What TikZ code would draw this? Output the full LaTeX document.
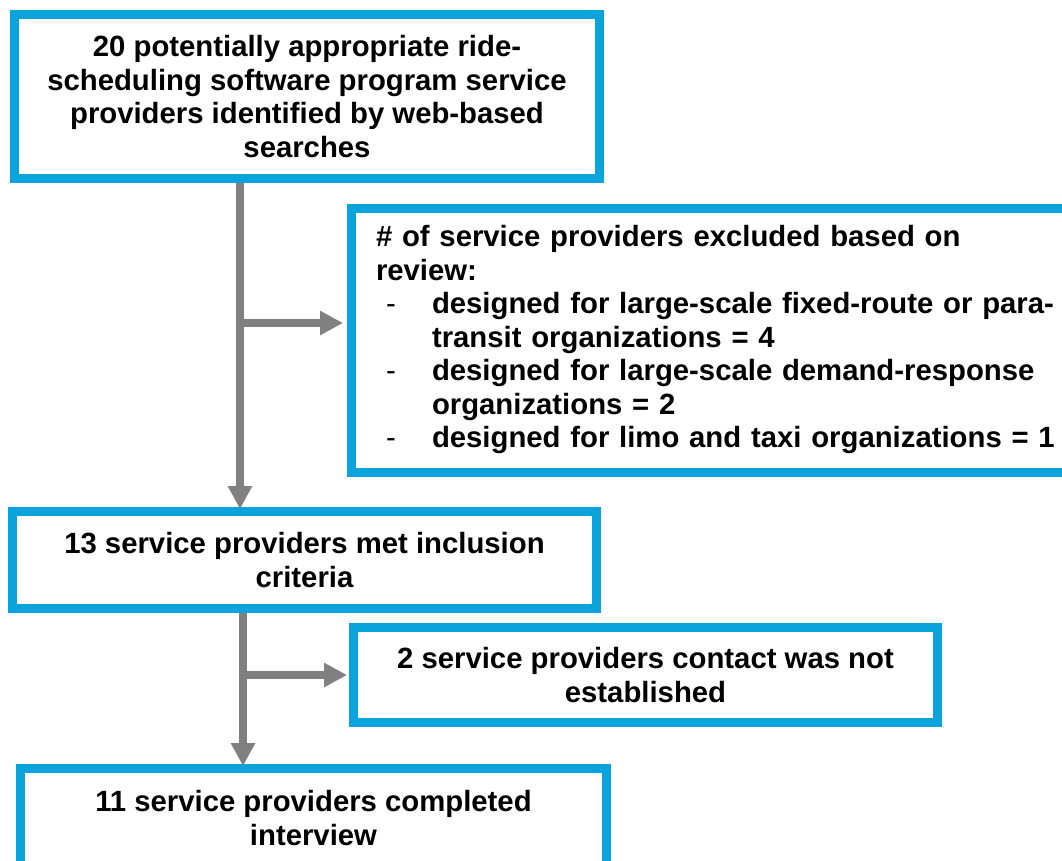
\documentclass[tikz,border=0pt]{standalone}
\usepackage{fontspec}
\setmainfont{Liberation Sans}
\usetikzlibrary{arrows.meta}
\definecolor{boxblue}{RGB}{11,163,219}
\definecolor{arrgray}{RGB}{128,128,128}
\begin{document}
\begin{tikzpicture}[x=1pt,y=-1pt,
  box/.style={draw=boxblue, line width=9pt, fill=white, rectangle, inner sep=0pt,
    font=\fontsize{29.3}{33.5}\selectfont\bfseries, align=center},
  arr/.style={draw=arrgray, line width=8pt, -{Triangle[length=23pt,width=23pt]}}]
\useasboundingbox (0,0) rectangle (1062,860);
\clip (0,0) rectangle (1062,860);
\fill[white] (0,0) rectangle (1062,860);

\node[box, minimum width=585pt, minimum height=164pt] (b1) at (307,96.5)
  {20 potentially appropriate ride-\\scheduling software program service\\providers identified by web-based\\searches};

\node[box, minimum width=719pt, minimum height=264pt, text width=670pt, inner xsep=24.5pt, align=left] (ex1) at (711,340.5)
  {\begin{tabular}{@{}p{56pt}@{}l@{}}
   \multicolumn{2}{@{}l@{}}{\# of service providers excluded based on}\\
   \multicolumn{2}{@{}l@{}}{review:}\\
   \hspace*{10pt}\mdseries - & designed for large-scale fixed-route or para-\\
    & transit organizations = 4\\
   \hspace*{10pt}\mdseries - & designed for large-scale demand-response\\
    & organizations = 2\\
   \hspace*{10pt}\mdseries - & designed for limo and taxi organizations = 1
   \end{tabular}};

\node[box, minimum width=584pt, minimum height=97pt] (b2) at (304.5,560)
  {13 service providers met inclusion\\criteria};

\node[box, minimum width=584pt, minimum height=95pt] (ex2) at (645.5,675)
  {2 service providers contact was not\\established};

\node[box, minimum width=586pt, minimum height=99pt] (b3) at (313.5,818)
  {11 service providers completed\\interview};

\coordinate (j1) at (240,323);
\coordinate (j2) at (243,675);

\draw[arr] (b1.south -| j1) -- ([yshift=-2pt]b2.north -| j1);
\draw[arr, shorten >=4pt] (j1) -- (ex1.west |- j1);
\draw[arr] (b2.south -| j2) -- ([yshift=-2pt]b3.north -| j2);
\draw[arr, shorten >=2pt] (j2) -- (ex2.west |- j2);
\end{tikzpicture}
\end{document}
